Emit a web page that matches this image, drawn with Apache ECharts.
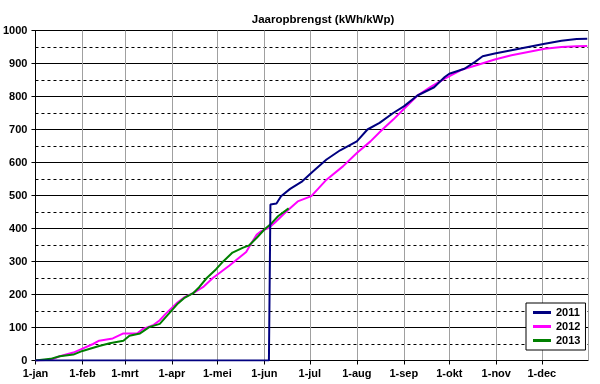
<!DOCTYPE html>
<html>
<head>
<meta charset="utf-8">
<script src="https://cdn.jsdelivr.net/npm/echarts@6/dist/echarts.min.js"></script>
<style>html,body{margin:0;padding:0;background:#fff}#c{width:600px;height:384px}</style>
</head>
<body>
<div id="c"></div>
<script>
// Day-of-year (0 = 1 jan) and cumulative yield (kWh/kWp)
var days2011 = [0,154,155,159,162,168,176,183,192,201,212,219,227,236,243,252,263,270,273,283,290,295,303,314,325,336,347,357,364];
var values2011 = [0,0,473,476,498,520,543,573,609,637,664,700,720,750,770,803,828,859,869,884,905,922,930,940,950,960,969,974,975];

var days2012 = [0,10,16,25,31,38,42,51,58,67,71,78,82,86,93,98,104,111,117,128,139,142,146,149,154,158,165,173,182,192,203,212,221,228,236,243,252,261,270,281,292,303,314,325,336,347,357,364];
var values2012 = [0,2,13,24,36,50,60,67,82,82,96,108,122,142,173,191,204,224,250,288,329,352,382,392,402,418,449,482,498,548,589,629,664,696,730,762,803,830,854,881,896,912,925,935,945,950,952,953];

var days2013 = [0,10,16,25,31,42,49,58,62,69,75,82,88,94,98,104,108,113,119,124,130,137,141,146,151,156,160,167];
var values2013 = [0,5,13,18,29,44,52,60,75,82,101,111,142,173,189,204,222,250,276,301,327,342,349,372,397,417,437,461];

var monthLabels = ['jan','feb','mrt','apr','mei','jun','jul','aug','sep','okt','nov','dec'];
var seriesNames = ['2011','2012','2013'];
var yTicks = [0,100,200,300,400,500,600,700,800,900,1000];

function toTime(d){ return new Date(2011,0,1).getTime() + d*86400000; }
function pairs(ds, vs){ return ds.map(function(d,i){ return [toTime(d), vs[i]]; }); }

var chart = echarts.init(document.getElementById('c'), null, {renderer:'canvas'});
var font = 'Liberation Sans, Arial, sans-serif';
chart.setOption({
  animation:false,
  backgroundColor:'#fff',
  title:{
    text:'Jaaropbrengst (kWh/kWp)',
    left:318, top:9, textAlign:'center',
    textStyle:{fontFamily:font, fontSize:11.5, fontWeight:'bold', color:'#000'}
  },
  legend:{
    data:seriesNames,
    orient:'vertical',
    left:526, top:303,
    backgroundColor:'#fff',
    borderColor:'#000', borderWidth:1,
    padding:[4,5,4,7],
    itemGap:3,
    itemWidth:18, itemHeight:3,
    icon:'rect',
    textStyle:{fontFamily:font, fontSize:11, fontWeight:'bold', color:'#000'}
  },
  grid:{left:35, right:12, top:30.5, bottom:23.5, containLabel:false},
  xAxis:{
    type:'time',
    min:toTime(0), max:toTime(364.5),
    splitNumber:12,
    axisLine:{lineStyle:{color:'#000', width:1}},
    axisTick:{show:true, length:4, lineStyle:{color:'#000'}},
    axisLabel:{
      fontFamily:font, fontSize:11, fontWeight:'bold', color:'#000', margin:8,
      hideOverlap:false,
      formatter:function(v){ var d=new Date(v); return d.getDate()===1 ? '1-'+monthLabels[d.getMonth()] : ''; }
    },
    splitLine:{show:true, lineStyle:{color:'#a0a0a0', width:1, type:'solid'}}
  },
  yAxis:[{
    type:'value', min:yTicks[0], max:yTicks[yTicks.length-1], interval:100,
    axisLine:{show:true, lineStyle:{color:'#000'}},
    axisTick:{show:true, length:4, lineStyle:{color:'#000'}},
    axisLabel:{fontFamily:font, fontSize:11, fontWeight:'bold', color:'#000', margin:8, formatter:function(v){ return String(v); }},
    splitLine:{show:true, lineStyle:{color:'#000', width:1, type:'solid'}}
  },{
    type:'value', min:0, max:1000, interval:50,
    axisLine:{show:false}, axisTick:{show:false}, axisLabel:{show:false},
    splitLine:{show:true, lineStyle:{color:'#000', width:1, type:[3,3]}}
  }],
  series:[
    {name:'2011', type:'line', data:pairs(days2011, values2011), showSymbol:false, symbol:'none', lineStyle:{color:'#000080', width:2}, itemStyle:{color:'#000080'}, z:3},
    {name:'2012', type:'line', data:pairs(days2012, values2012), showSymbol:false, symbol:'none', lineStyle:{color:'#ff00ff', width:2}, itemStyle:{color:'#ff00ff'}, z:2},
    {name:'2013', type:'line', data:pairs(days2013, values2013), showSymbol:false, symbol:'none', lineStyle:{color:'#008000', width:2}, itemStyle:{color:'#008000'}, z:2}
  ]
});
</script>
</body>
</html>
